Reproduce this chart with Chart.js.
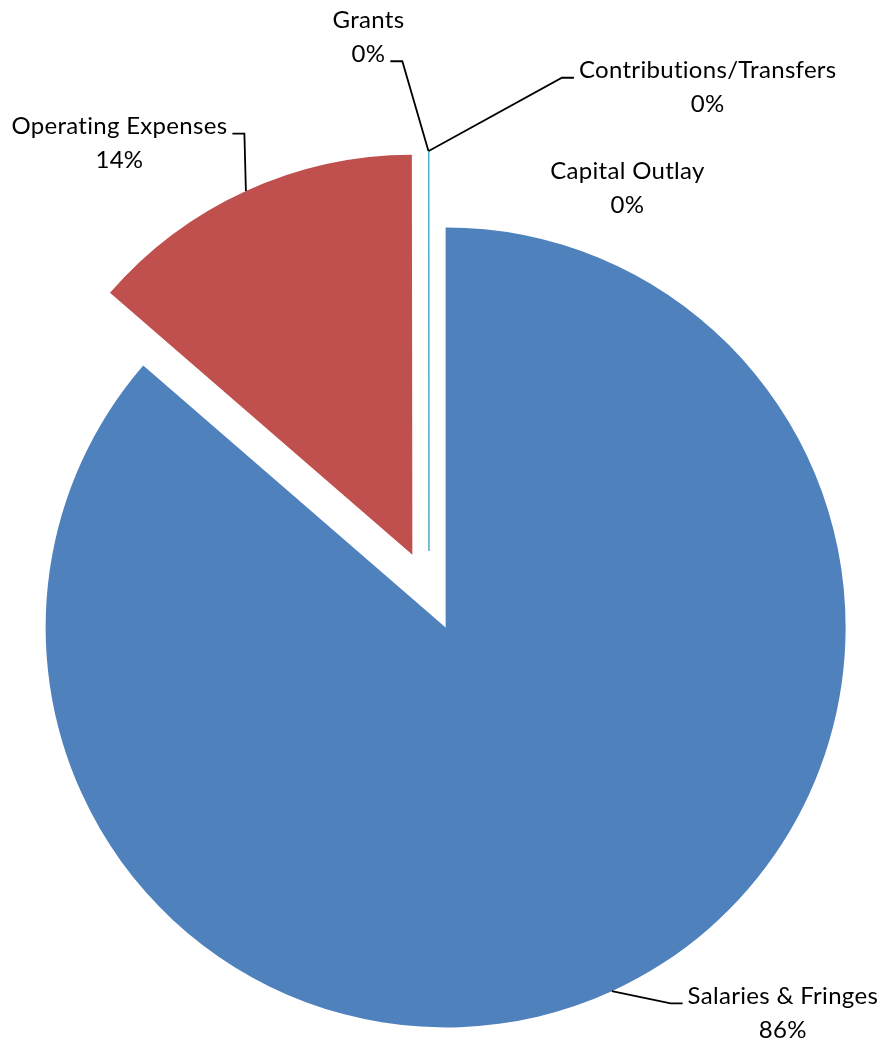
<!DOCTYPE html>
<html>
<head>
<meta charset="utf-8">
<title>Budget by Category</title>
<script src="https://cdn.jsdelivr.net/npm/chart.js@4.4.1/dist/chart.umd.min.js"></script>
<style>
  html, body { margin: 0; padding: 0; background: #fff; }
  #wrap { width: 886px; height: 1044px; position: relative; }
</style>
</head>
<body>
<div id="wrap"><canvas id="budgetChart"></canvas></div>
<script>
const categories = ["Salaries & Fringes", "Operating Expenses", "Capital Outlay", "Grants", "Contributions/Transfers"];
const budgetShare = [86.35, 13.62, 0, 0, 0.02];
const sliceColors = ["#4F81BD", "#C0504D", "#9BBB59", "#8064A2", "#4BACC6"];

// label block position, measured from the outer midpoint of its slice,
// plus which side / which text row the leader line hooks into
const labelPlacement = [
  { dx: 171, dy: 21, leader: "left", row: 0 },
  { dx: -126.5, dy: -48.5, leader: "right", row: 0 },
  { dx: 199, dy: 36.5, leader: null },
  { dx: -60, dy: -114.5, leader: "right", row: 1 },
  { dx: 279, dy: -64.5, leader: "left", row: 0 }
];

const FONT_SIZE = 24;
const LINE_GAP = 33.5;

// pull every slice out from the centre along its own bisector
const explodeSlices = {
  id: "explodeSlices",
  afterDatasetsUpdate(chart, args, opts) {
    const meta = chart.getDatasetMeta(0);
    meta.data.forEach(arc => {
      const mid = (arc.startAngle + arc.endAngle) / 2;
      arc.x += Math.cos(mid) * opts.distance;
      arc.y += Math.sin(mid) * opts.distance;
    });
  }
};

// category + percent labels with leader lines
const sliceLabels = {
  id: "sliceLabels",
  afterDraw(chart) {
    const ctx = chart.ctx;
    const meta = chart.getDatasetMeta(0);
    const values = chart.data.datasets[0].data;
    const total = values.reduce((a, b) => a + b, 0);

    ctx.save();
    ctx.font = FONT_SIZE + "px Lato, 'Open Sans', sans-serif";
    // a little tracking; also keeps the "ti" ligature from kicking in
    ctx.letterSpacing = "0.3px";
    ctx.fillStyle = "#000";
    ctx.textAlign = "center";
    ctx.textBaseline = "alphabetic";
    ctx.strokeStyle = "#000";
    ctx.lineWidth = 1.8;

    meta.data.forEach((arc, i) => {
      const place = labelPlacement[i];
      const mid = (arc.startAngle + arc.endAngle) / 2;
      const ax = arc.x + Math.cos(mid) * arc.outerRadius;
      const ay = arc.y + Math.sin(mid) * arc.outerRadius;
      const cx = ax + place.dx;
      const cy = ay + place.dy;

      const rows = [chart.data.labels[i], Math.round(values[i] / total * 100) + "%"];
      const rowY = [cy - LINE_GAP / 2, cy + LINE_GAP / 2];
      const capShift = FONT_SIZE * 0.36;

      rows.forEach((txt, r) => ctx.fillText(txt, cx, rowY[r] + capShift));

      if (place.leader) {
        const half = ctx.measureText(rows[place.row]).width / 2;
        const sy = rowY[place.row] + 8;
        let near, far;
        if (place.leader === "left") {
          near = cx - half - 5;
          far = near - 12;
        } else {
          near = cx + half + 5;
          far = near + 12;
        }
        ctx.beginPath();
        ctx.moveTo(near, sy);
        ctx.lineTo(far, sy);
        ctx.lineTo(ax, ay);
        ctx.stroke();
      }
    });
    ctx.restore();
  }
};

const ctx = document.getElementById("budgetChart").getContext("2d");
new Chart(ctx, {
  type: "pie",
  data: {
    labels: categories,
    datasets: [{
      data: budgetShare,
      backgroundColor: sliceColors,
      borderColor: sliceColors,
      borderWidth: [0, 0, 0, 0, 1],
      radius: 400
    }]
  },
  options: {
    responsive: true,
    maintainAspectRatio: false,
    animation: false,
    events: [],
    layout: { padding: { top: 138, right: 28, bottom: 0, left: 0 } },
    plugins: {
      legend: { display: false },
      tooltip: { enabled: false },
      explodeSlices: { distance: 40 }
    }
  },
  plugins: [explodeSlices, sliceLabels]
});
</script>
</body>
</html>
